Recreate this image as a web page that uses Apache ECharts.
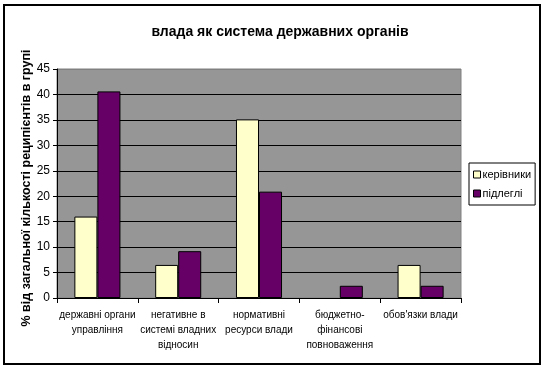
<!DOCTYPE html>
<html>
<head>
<meta charset="utf-8">
<script src="https://cdn.jsdelivr.net/npm/echarts@6/dist/echarts.min.js"></script>
<style>html,body{margin:0;padding:0;background:#fff}#c{width:546px;height:370px}</style>
</head>
<body>
<div id="c"></div>
<script>
var titleText = 'влада як система державних органів';
var yAxisName = '% від загальної кількості реципієнтів в групі';
var categories = [
  'державні органи\nуправління',
  'негативне в\nсистемі владних\nвідносин',
  'нормативні\nресурси влади',
  'бюджетно-\nфінансові\nповноваження',
  "обов'язки влади"
];
var seriesNames = ['керівники', 'підлеглі'];
var kerivnyky = [16.0, 6.5, 35.1, 0, 6.5];
var pidlegli = [40.6, 9.2, 20.9, 2.4, 2.4];
var yTicks = [0, 5, 10, 15, 20, 25, 30, 35, 40, 45];

var chart = echarts.init(document.getElementById('c'), null, {renderer: 'canvas'});
var font = '"Liberation Sans", Arial, sans-serif';
var gridColors = yTicks.map(function (v, i) { return i === yTicks.length - 1 ? '#808080' : '#000'; });

function toItems(arr) {
  return arr.map(function (v) {
    return v === 0 ? {value: v, itemStyle: {borderWidth: 0, opacity: 0}} : v;
  });
}

chart.setOption({
  animation: false,
  backgroundColor: '#fff',
  textStyle: {fontFamily: font},
  title: {
    text: titleText,
    left: 275, top: 20, textAlign: 'center',
    textStyle: {fontSize: 14, fontWeight: 'bold', color: '#000', fontFamily: font}
  },
  legend: {
    orient: 'vertical',
    left: 469, top: 163,
    width: 68,
    data: seriesNames,
    backgroundColor: '#fff',
    borderColor: '#000', borderWidth: 1,
    padding: [6, 4, 6, 4],
    itemWidth: 7, itemHeight: 7, itemGap: 8,
    icon: 'rect',
    itemStyle: {borderColor: '#000', borderWidth: 1},
    textStyle: {fontSize: 11, color: '#000', fontFamily: font, padding: [0, 0, 0, -3]}
  },
  grid: {
    left: 57, right: 85, top: 69, bottom: 72,
    show: true, backgroundColor: '#969696', borderColor: '#808080', borderWidth: 1,
    containLabel: false
  },
  xAxis: {
    type: 'category',
    data: categories,
    axisLine: {lineStyle: {color: '#000', width: 1}},
    axisTick: {show: true, length: 5, lineStyle: {color: '#000'}},
    axisLabel: {interval: 0, fontSize: 10, color: '#000', lineHeight: 15, margin: 10, fontFamily: font}
  },
  yAxis: {
    type: 'value',
    min: 0, max: 45, interval: 5,
    name: yAxisName,
    nameLocation: 'middle',
    nameRotate: 90,
    nameGap: 24,
    nameMoveOverlap: false,
    nameTextStyle: {fontSize: 12.5, fontWeight: 'bold', color: '#000', fontFamily: font, padding: [0, 9, 0, 0]},
    axisLine: {show: true, lineStyle: {color: '#000', width: 1}},
    axisTick: {show: true, length: 4, lineStyle: {color: '#000'}},
    axisLabel: {fontSize: 12, color: '#000', margin: 7, fontFamily: font},
    splitLine: {show: true, lineStyle: {color: gridColors, width: 1}}
  },
  series: [
    {
      name: seriesNames[0], type: 'bar', data: toItems(kerivnyky),
      barGap: '0%', barCategoryGap: '43%',
      itemStyle: {color: '#FFFFCC', borderColor: '#000', borderWidth: 1}
    },
    {
      name: seriesNames[1], type: 'bar', data: toItems(pidlegli),
      barGap: '0%', barCategoryGap: '43%',
      itemStyle: {color: '#660066', borderColor: '#000', borderWidth: 1}
    }
  ],
  graphic: [{
    type: 'rect', silent: true, z: 100,
    shape: {x: 4, y: 5, width: 536, height: 359},
    style: {fill: null, stroke: '#000', lineWidth: 2}
  }]
});
</script>
</body>
</html>
